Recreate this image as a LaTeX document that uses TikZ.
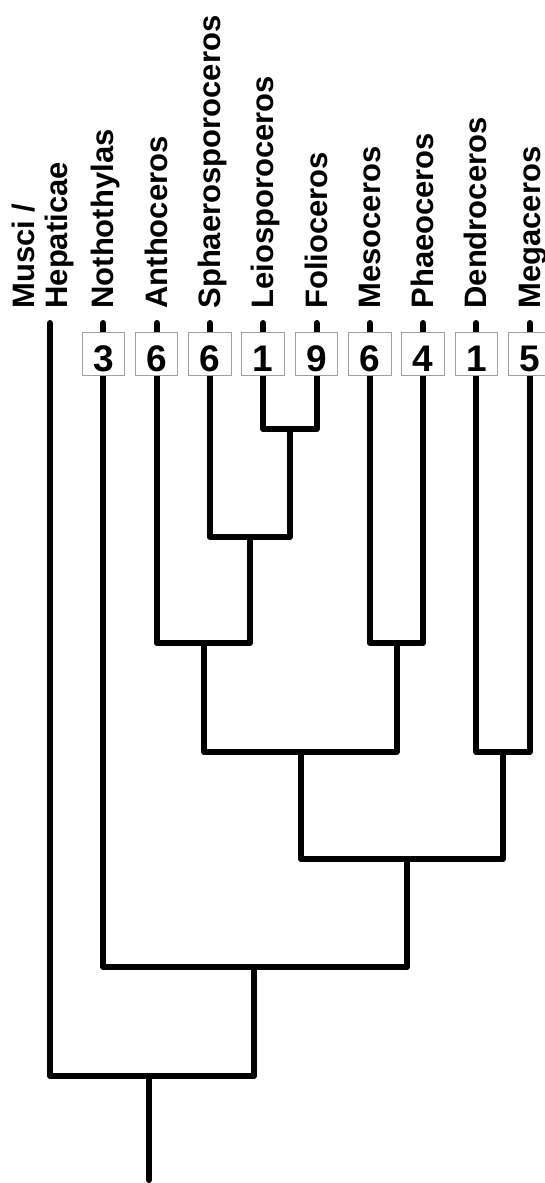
\documentclass[tikz,border=0pt]{standalone}
\usepackage{fontspec}
\setmainfont{Liberation Sans}
\usetikzlibrary{backgrounds}

\begin{document}
\begin{tikzpicture}[
  x=0.5pt, y=-0.5pt,
  every node/.style={inner sep=0pt},
  taxon/.style={rotate=90, anchor=base west, font=\fontsize{15.5}{16}\selectfont\bfseries},
  numbox/.style={draw=gray!75, line width=0.5pt, fill=white, minimum width=21.3pt, minimum height=21.7pt, text height=17.2pt, text depth=0pt, font=\fontsize{18.5}{19}\selectfont\bfseries},
  branch/.style={line width=3pt, line cap=round, line join=round}
]
\useasboundingbox (0,0) rectangle (545,1183);
% leaves: number boxes and names
\coordinate (tips) at (0,323);
\foreach \name/\x/\n/\txt in {noth/103.3/3/Nothothylas, anth/156.6/6/Anthoceros, sphaero/209.9/6/Sphaerosporoceros, leio/263.2/1/Leiosporoceros, folio/316.5/9/Folioceros, meso/369.8/6/Mesoceros, phaeo/423.1/4/Phaeoceros, dendro/476.4/1/Dendroceros, mega/529.7/5/Megaceros} {
  \node[numbox] (\name) at (\x,354) {\n};
  \node[taxon] (l\name) at (\x+10.5,309) {\txt};
}
\node[taxon] (musci) at (34.5,309) {Musci /};
\node[taxon] (hepat) at (67,309) {Hepaticae};
\coordinate (mtip) at (50,323);
% joins
\coordinate (lf) at (289.8,429);
\coordinate (slf) at (249.9,537);
\coordinate (aslf) at (204,643);
\coordinate (mp) at (396.5,643);
\coordinate (core) at (301,752);
\coordinate (dm) at (503,752);
\coordinate (horn) at (407,859);
\coordinate (nh) at (254,967);
\coordinate (all) at (149,1076);
\coordinate (rootend) at (149,1180);
\begin{scope}[on background layer]
\draw[branch] (leio |- tips) |- (lf) -| (folio |- tips);
\draw[branch] (sphaero |- tips) |- (slf) -| (lf);
\draw[branch] (anth |- tips) |- (aslf) -| (slf);
\draw[branch] (meso |- tips) |- (mp) -| (phaeo |- tips);
\draw[branch] (aslf) |- (core) -| (mp);
\draw[branch] (dendro |- tips) |- (dm) -| (mega |- tips);
\draw[branch] (core) |- (horn) -| (dm);
\draw[branch] (noth |- tips) |- (nh) -| (horn);
\draw[branch] (mtip) |- (all) -| (nh);
\draw[branch] (all) -- (rootend);
\end{scope}
\end{tikzpicture}
\end{document}
